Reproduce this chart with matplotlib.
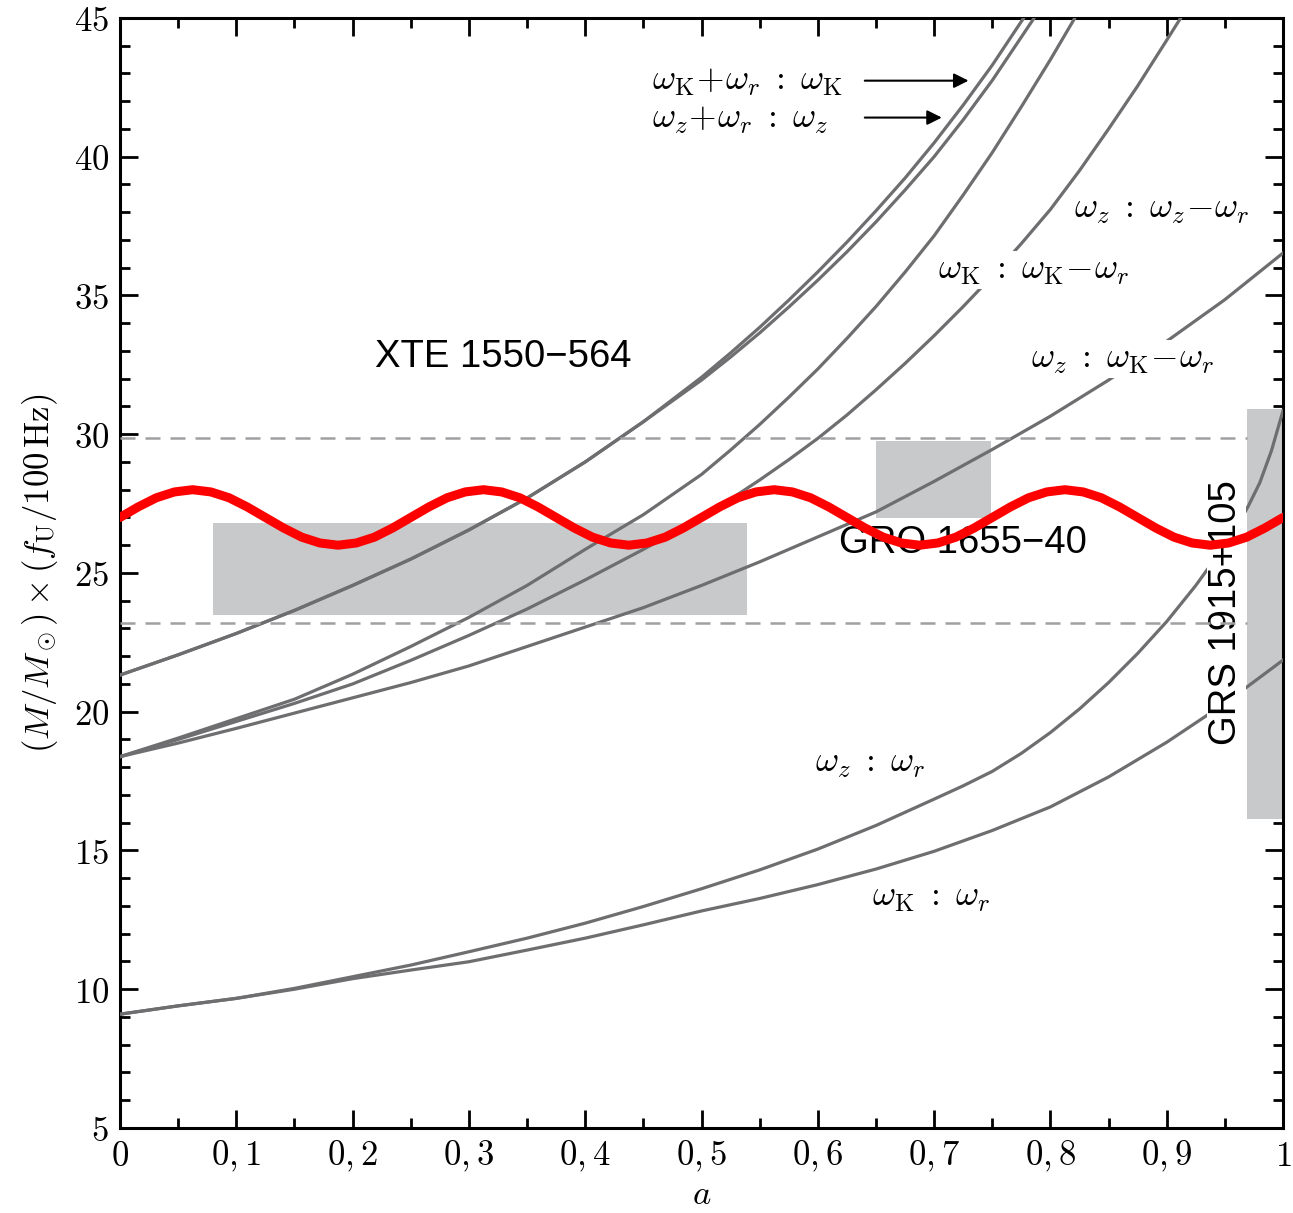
import numpy as np
import matplotlib.pyplot as plt
from matplotlib.ticker import FixedLocator, FixedFormatter, MultipleLocator

plt.rcParams['mathtext.fontset'] = 'cm'
plt.rcParams['font.family'] = 'serif'

# spin values at which the curves were read (0.05 steps, finer where the curves bend)
a_low = [0.0, 0.05, 0.1, 0.15, 0.2, 0.25, 0.3, 0.35, 0.4, 0.45, 0.5]

# omega_K : omega_r
a_Kr = a_low + [0.55, 0.6, 0.65, 0.7, 0.75, 0.8, 0.85, 0.9, 0.95, 1.0]
y_Kr = [9.10, 9.40, 9.67, 10.00, 10.38, 10.69, 10.99, 11.41, 11.84, 12.32, 12.82,
        13.27, 13.77, 14.33, 14.97, 15.72, 16.57, 17.65, 18.90, 20.30, 21.86]
# omega_z : omega_r
a_zr = a_low + [0.55, 0.6, 0.65, 0.7, 0.725, 0.75, 0.775, 0.8, 0.825, 0.85, 0.875,
                0.9, 0.925, 0.95, 0.96, 0.97, 0.98, 0.99, 1.0]
y_zr = [9.10, 9.40, 9.67, 10.03, 10.45, 10.87, 11.35, 11.84, 12.38, 12.98, 13.62,
        14.30, 15.05, 15.90, 16.85, 17.33, 17.85, 18.50, 19.25, 20.10, 21.05, 22.10,
        23.25, 24.55, 26.00, 26.65, 27.40, 28.25, 29.40, 30.85]
# omega_z : omega_K - omega_r
a_zKr = a_low + [0.55, 0.6, 0.65, 0.7, 0.75, 0.8, 0.85, 0.9, 0.95, 1.0]
y_zKr = [18.38, 18.87, 19.40, 19.95, 20.50, 21.05, 21.65, 22.35, 23.05, 23.75, 24.55,
         25.40, 26.30, 27.20, 28.30, 29.45, 30.65, 31.95, 33.35, 34.85, 36.53]
# omega_K : omega_K - omega_r
a_KKr = a_low + [0.525, 0.55, 0.575, 0.6, 0.625, 0.65, 0.675, 0.7, 0.725, 0.75,
                 0.775, 0.8, 0.821]
y_KKr = [18.38, 19.05, 19.75, 20.45, 21.35, 22.35, 23.40, 24.55, 25.85, 27.10, 28.55,
         29.43, 30.35, 31.33, 32.35, 33.45, 34.60, 35.84, 37.15, 38.62, 40.15,
         41.80, 43.50, 45.0]
# omega_z : omega_z - omega_r
a_zzr = a_low + [0.525, 0.55, 0.575, 0.6, 0.625, 0.65, 0.675, 0.7, 0.725, 0.75,
                 0.775, 0.8, 0.825, 0.85, 0.875, 0.9, 0.912]
y_zzr = [18.38, 19.00, 19.65, 20.30, 21.00, 21.85, 22.75, 23.70, 24.75, 25.85, 27.00,
         27.66, 28.35, 29.08, 29.85, 30.69, 31.60, 32.55, 33.55, 34.60, 35.70,
         36.87, 38.10, 39.50, 41.00, 42.55, 44.20, 45.0]
# omega_K + omega_r : omega_K
a_Kp = a_low + [0.525, 0.55, 0.575, 0.6, 0.625, 0.65, 0.675, 0.7, 0.725, 0.75, 0.777]
y_Kp = [21.32, 22.05, 22.82, 23.65, 24.55, 25.50, 26.55, 27.70, 29.00, 30.45, 32.05,
        32.93, 33.85, 34.83, 35.85, 36.92, 38.05, 39.23, 40.50, 41.86, 43.30, 45.0]
# omega_z + omega_r : omega_z
a_zp = a_low + [0.525, 0.55, 0.575, 0.6, 0.625, 0.65, 0.675, 0.7, 0.725, 0.75, 0.786]
y_zp = [21.32, 22.05, 22.82, 23.65, 24.55, 25.50, 26.55, 27.70, 29.00, 30.45, 31.95,
        32.78, 33.65, 34.58, 35.55, 36.57, 37.65, 38.80, 40.00, 41.33, 42.75, 45.0]

curves = [(a_Kr, y_Kr), (a_zr, y_zr), (a_zKr, y_zKr), (a_KKr, y_KKr),
          (a_zzr, y_zzr), (a_Kp, y_Kp), (a_zp, y_zp)]

# red wavy band, sampled every 1/64 in a
red_a = np.arange(65) / 64
red_y = [27.00, 27.38, 27.71, 27.92, 28.00, 27.92, 27.71, 27.38,
         27.00, 26.62, 26.29, 26.08, 26.00, 26.08, 26.29, 26.62,
         27.00, 27.38, 27.71, 27.92, 28.00, 27.92, 27.71, 27.38,
         27.00, 26.62, 26.29, 26.08, 26.00, 26.08, 26.29, 26.62,
         27.00, 27.38, 27.71, 27.92, 28.00, 27.92, 27.71, 27.38,
         27.00, 26.62, 26.29, 26.08, 26.00, 26.08, 26.29, 26.62,
         27.00, 27.38, 27.71, 27.92, 28.00, 27.92, 27.71, 27.38,
         27.00, 26.62, 26.29, 26.08, 26.00, 26.08, 26.29, 26.62,
         27.00]

# source boxes: (a_min, a_max, y_min, y_max)
boxes = {
    'XTE': (0.080, 0.539, 23.50, 26.80),
    'GRO': (0.650, 0.749, 26.98, 29.76),
    'GRS': (0.969, 1.000, 16.14, 30.90),
}
dashed_y = [29.86, 23.20]

x_ticks = [0, 0.1, 0.2, 0.3, 0.4, 0.5, 0.6, 0.7, 0.8, 0.9, 1.0]
x_labels = ['$0$', '$0,1$', '$0,2$', '$0,3$', '$0,4$', '$0,5$',
            '$0,6$', '$0,7$', '$0,8$', '$0,9$', '$1$']
y_ticks = [5, 10, 15, 20, 25, 30, 35, 40, 45]
y_labels = ['$%d$' % v for v in y_ticks]

fig = plt.figure(figsize=(12.93, 12.13), dpi=100)
ax = fig.add_axes([0.0928, 0.0701, 0.8995, 0.9151])

for name, (x0, x1, y0, y1) in boxes.items():
    ax.fill_between([x0, x1], y0, y1, color='#c8c9cb', lw=0, zorder=2)

for a_vals, y_vals in curves:
    ax.plot(a_vals, y_vals, color='#6e6e70', lw=2.3, zorder=3, solid_joinstyle='round')

for yd in dashed_y:
    ax.plot([0, 0.969], [yd, yd], color='#a0a0a2', lw=1.8, ls=(0, (6, 4)), zorder=4.5)

ax.plot(red_a, red_y, color='#ff0000', lw=6.5, zorder=6, solid_capstyle='round')

# curve labels
box_w = dict(facecolor='white', edgecolor='none', pad=1.5)
lab_fs = 25.5
ax.text(0.457, 42.72, r'$\omega_{\rm K}\!+\!\omega_r\;:\;\omega_{\rm K}$', fontsize=lab_fs,
        ha='left', va='center', zorder=5)
ax.text(0.457, 41.35, r'$\omega_z\!+\!\omega_r\;:\;\omega_z$', fontsize=lab_fs,
        ha='left', va='center', zorder=5)
ax.annotate('', xy=(0.732, 42.74), xytext=(0.638, 42.74),
            arrowprops=dict(arrowstyle='-|>', color='black', lw=1.5, mutation_scale=22), zorder=5)
ax.annotate('', xy=(0.709, 41.41), xytext=(0.638, 41.41),
            arrowprops=dict(arrowstyle='-|>', color='black', lw=1.5, mutation_scale=22), zorder=5)
ax.text(0.820, 38.1, r'$\omega_z\;:\;\omega_z\!-\!\omega_r$', fontsize=lab_fs,
        ha='left', va='center', bbox=box_w, zorder=4)
ax.text(0.703, 35.92, r'$\omega_{\rm K}\;:\;\omega_{\rm K}\!-\!\omega_r$', fontsize=lab_fs,
        ha='left', va='center', bbox=box_w, zorder=4)
ax.text(0.783, 32.7, r'$\omega_z\;:\;\omega_{\rm K}\!-\!\omega_r$', fontsize=lab_fs,
        ha='left', va='center', bbox=box_w, zorder=4)
ax.text(0.598, 18.15, r'$\omega_z\;:\;\omega_r$', fontsize=lab_fs,
        ha='left', va='center', bbox=box_w, zorder=4)
ax.text(0.647, 13.32, r'$\omega_{\rm K}\;:\;\omega_r$', fontsize=lab_fs,
        ha='left', va='center', bbox=box_w, zorder=4)

# source names
src_font = dict(family=['Liberation Sans', 'DejaVu Sans'], fontsize=27.5)
ax.text(0.219, 32.78, 'XTE 1550\u2212564', ha='left', va='center', zorder=5, **src_font)
ax.text(0.618, 26.08, 'GRO 1655\u221240', ha='left', va='center', zorder=5, **src_font)
ax.text(0.951, 23.56, 'GRS 1915+105', ha='center', va='center', rotation=90,
        bbox=dict(facecolor='white', edgecolor='none', pad=1), zorder=4, **src_font)

ax.set_xlim(0, 1)
ax.set_ylim(5, 45)
ax.xaxis.set_major_locator(FixedLocator(x_ticks))
ax.xaxis.set_major_formatter(FixedFormatter(x_labels))
ax.xaxis.set_minor_locator(MultipleLocator(0.05))
ax.yaxis.set_major_locator(FixedLocator(y_ticks))
ax.yaxis.set_major_formatter(FixedFormatter(y_labels))
ax.yaxis.set_minor_locator(MultipleLocator(1))
ax.tick_params(which='both', direction='in', top=True, right=True, width=2, labelsize=25)
ax.tick_params(which='major', length=13, pad=8)
ax.tick_params(which='minor', length=7)
for s in ax.spines.values():
    s.set_linewidth(2.2)

ax.set_xlabel('$a$', fontsize=25, labelpad=2)
ax.set_ylabel(r'$(M/M_\odot)\times(f_{\rm U}/100\,{\rm Hz})$', fontsize=25, labelpad=10)

fig.savefig('out.png', dpi=100)
